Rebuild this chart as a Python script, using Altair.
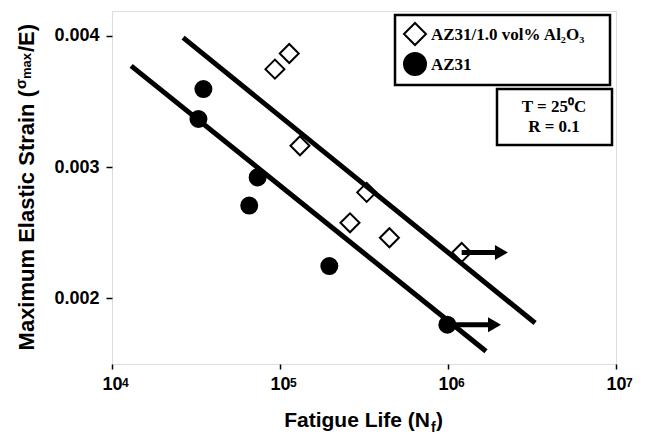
import altair as alt
import pandas as pd

# ---------------- data ----------------
series_names = ["AZ31/1.0 vol% Al₂O₃", "AZ31"]
series_shapes = ["diamond", "circle"]
series_fills = ["white", "black"]

comp_N = [93300, 113500, 131500, 328000, 261000, 448000, 1206000]
comp_strain = [0.003747, 0.003866, 0.003163, 0.002808, 0.002576, 0.002462, 0.00235]

az31_N = [35000, 32700, 73600, 65600, 196600, 991000]
az31_strain = [0.003595, 0.003367, 0.002922, 0.002707, 0.002246, 0.0018]

fit_names = ["composite fit", "AZ31 fit"]
fit_N_start = [26500, 13000]
fit_N_end = [3300000, 1683000]
fit_strain_start = [0.003987, 0.003772]
fit_strain_end = [0.001812, 0.001597]

arrow_N_from = [1206000, 991000]
arrow_N_to = [2080000, 1892000]
arrow_strain = [0.00235, 0.0018]

x_ticks = [10000, 100000, 1000000, 10000000]
x_exponents = ["4", "5", "6", "7"]
y_ticks = [0.002, 0.003, 0.004]
x_domain = [10000, 10000000]
y_domain = [0.0015, 0.00419]

# ---------------- tables ----------------
pts = pd.DataFrame({
    "series": [series_names[0]] * len(comp_N) + [series_names[1]] * len(az31_N),
    "N": comp_N + az31_N,
    "strain": comp_strain + az31_strain,
})
fits = pd.DataFrame({
    "fit": fit_names + fit_names,
    "N": fit_N_start + fit_N_end,
    "strain": fit_strain_start + fit_strain_end,
})
arrows = pd.DataFrame({"N_from": arrow_N_from, "N_to": arrow_N_to, "strain": arrow_strain})
exps = pd.DataFrame({"N": x_ticks, "e": x_exponents})

SANS = "Liberation Sans"
SERIF = "Liberation Serif"

x_scale = alt.Scale(type="log", domain=x_domain, nice=False)
y_scale = alt.Scale(domain=y_domain, nice=False, zero=False)
x_axis = alt.Axis(
    values=x_ticks, title=None, grid=False, domain=False,
    labelExpr="'10'",
    labelFont=SANS, labelFontWeight="bold", labelFontSize=18, labelColor="black",
    tickSize=5, tickWidth=1.5, tickColor="black", labelPadding=6, labelFlush=False,
)
y_axis = alt.Axis(
    values=y_ticks, title=None, grid=False, domain=False, format=".3f",
    labelFont=SANS, labelFontWeight="bold", labelFontSize=18, labelColor="black",
    tickSize=6, tickWidth=1.5, tickColor="black", labelPadding=7,
)

points = alt.Chart(pts).mark_point(filled=True, stroke="black", strokeWidth=2, opacity=1).encode(
    x=alt.X("N:Q", scale=x_scale, axis=x_axis),
    y=alt.Y("strain:Q", scale=y_scale, axis=y_axis),
    shape=alt.Shape("series:N", scale=alt.Scale(domain=series_names, range=series_shapes), legend=None),
    fill=alt.Fill("series:N", scale=alt.Scale(domain=series_names, range=series_fills), legend=None),
    size=alt.Size("series:N", scale=alt.Scale(domain=series_names, range=[361, 256]), legend=None),
)

lines = alt.Chart(fits).mark_line(color="black", strokeWidth=5).encode(
    x=alt.X("N:Q", scale=x_scale, axis=x_axis),
    y=alt.Y("strain:Q", scale=y_scale, axis=y_axis),
    detail="fit:N",
)

shafts = alt.Chart(arrows).mark_rule(color="black", strokeWidth=5).encode(
    x=alt.X("N_from:Q", scale=x_scale, axis=x_axis),
    x2="N_to:Q",
    y=alt.Y("strain:Q", scale=y_scale, axis=y_axis),
)
heads = alt.Chart(arrows).mark_point(shape="triangle-right", size=225, filled=True, color="black", opacity=1).encode(
    x=alt.X("N_to:Q", scale=x_scale, axis=x_axis),
    y=alt.Y("strain:Q", scale=y_scale, axis=y_axis),
)

# tick-label exponents, placed through the x scale
exponent_text = alt.Chart(exps).mark_text(
    align="left", baseline="alphabetic", dx=10, fontSize=12, fontWeight="bold", font=SANS, color="black",
).encode(
    x=alt.X("N:Q", scale=x_scale, axis=x_axis),
    y=alt.value(376),
    text="e:N",
)

one = pd.DataFrame({"k": [0]})
legend_box = alt.Chart(one).mark_rect(fill="white", stroke="black", strokeWidth=2.5).encode(
    x=alt.value(283), x2=alt.value(498), y=alt.value(4), y2=alt.value(74))
info_box = alt.Chart(one).mark_rect(fill="white", stroke="black", strokeWidth=2.5).encode(
    x=alt.value(385), x2=alt.value(500), y=alt.value(78), y2=alt.value(134))

# legend entries (box drawn above)
legend_layers = []
for i, name in enumerate(series_names):
    row_y = 23 + 30 * i
    legend_layers.append(
        alt.Chart(pd.DataFrame({"series": [name]})).mark_point(
            shape=series_shapes[i], fill=series_fills[i], filled=True, stroke="black",
            strokeWidth=2, size=484, opacity=1,
        ).encode(x=alt.value(303), y=alt.value(row_y))
    )
    legend_layers.append(
        alt.Chart(pd.DataFrame({"series": [name]})).mark_text(
            align="left", baseline="middle", fontSize=17, fontWeight="bold", font=SERIF, color="black",
        ).encode(x=alt.value(319), y=alt.value(row_y + 1), text="series:N")
    )


def txt(s, x, y, size, align="left", angle=0, font=SANS):
    return alt.Chart(pd.DataFrame({"s": [s]})).mark_text(
        align=align, baseline="alphabetic", fontSize=size, fontWeight="bold",
        font=font, angle=angle, color="black",
    ).encode(x=alt.value(x), y=alt.value(y), text="s:N")


texts = [
    txt("T = 25⁰C", 442, 101, 17, "center", font=SERIF),
    txt("R = 0.1", 442, 121, 17, "center", font=SERIF),
    # x axis title with subscript
    txt("Fatigue Life (N", 318, 416, 21, "right"),
    txt("f", 319, 421, 14, "left"),
    txt(")", 324, 416, 21, "left"),
    # y axis title with sub/superscript pieces (rotated)
    txt("Maximum Elastic Strain (", -78, 79, 22, "right", angle=270),
    txt("σ", -86, 78, 15, "left", angle=270),
    txt("max", -81, 68, 13, "left", angle=270),
    txt("/E)", -78, 41, 22, "left", angle=270),
]

chart = alt.layer(
    legend_box, info_box, points, lines, shafts, heads, exponent_text, *legend_layers, *texts
).properties(
    width=504, height=353,
    autosize=alt.AutoSizeParams(type="none"),
    padding={"left": 104, "top": 3, "right": 21, "bottom": 76},
).configure_view(stroke="black", strokeWidth=3).configure(background="white")

chart.save("out.html", embed_options={"renderer": "svg", "actions": False})
